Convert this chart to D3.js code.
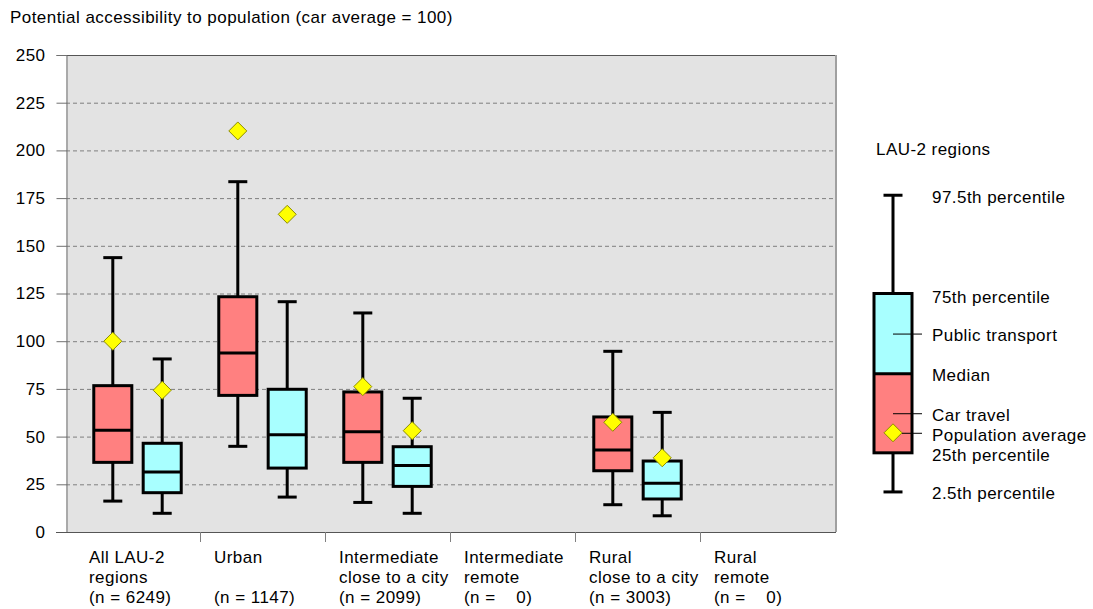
<!DOCTYPE html>
<html><head><meta charset="utf-8">
<script src="https://cdn.jsdelivr.net/npm/d3@7"></script>
<style>
html,body{margin:0;padding:0;background:#fff;}
svg{display:block;font-family:"Liberation Sans",Arial,sans-serif;}
text{white-space:pre;letter-spacing:0.45px;}
</style></head><body>
<svg id="chart" width="1093" height="609"></svg>
<script>
// ---------- data ----------
const categories = ["All LAU-2 regions","Urban","Intermediate close to a city","Intermediate remote","Rural close to a city","Rural remote"];
const categoryLines = [
  ["All LAU-2","regions","(n = 6249)"],
  ["Urban","","(n = 1147)"],
  ["Intermediate","close to a city","(n = 2099)"],
  ["Intermediate","remote","(n =    0)"],
  ["Rural","close to a city","(n = 3003)"],
  ["Rural","remote","(n =    0)"]
];
const modes = ["Car travel","Public transport"];
// car travel percentiles
const carP025 = [16.2, 44.9, 15.5, null, 14.3, null];
const carP25  = [36.5, 71.6, 36.5, null, 32.1, null];
const carMed  = [53.3, 93.8, 52.6, null, 43.0, null];
const carP75  = [76.7, 123.3, 73.4, null, 60.3, null];
const carP975 = [143.8, 183.6, 114.8, null, 94.7, null];
const carAvg  = [100.0, 210.2, 76.2, null, 57.5, null];
// public transport percentiles
const ptP025 = [9.8, 18.3, 9.8, null, 8.5, null];
const ptP25  = [20.6, 33.5, 23.9, null, 17.3, null];
const ptMed  = [31.4, 51.0, 34.8, null, 25.5, null];
const ptP75  = [46.5, 74.8, 44.7, null, 37.2, null];
const ptP975 = [90.7, 120.7, 70.1, null, 62.7, null];
const ptAvg  = [74.3, 166.5, 53.1, null, 38.9, null];
const yTicks = [0,25,50,75,100,125,150,175,200,225,250];
const title = "Potential accessibility to population (car average = 100)";
// legend schematic (in chart units)
const legendTitle = "LAU-2 regions";
const legendBox = {p025:21, p25:41.5, med:83, p75:125, p975:176.5, avg:52};
const legendLabels = [
  {text:"97.5th percentile", v:175.7},
  {text:"75th percentile", v:123.3},
  {text:"Public transport", v:103.2},
  {text:"Median", v:82},
  {text:"Car travel", v:61.3},
  {text:"Population average", v:50.8},
  {text:"25th percentile", v:40.4},
  {text:"2.5th percentile", v:20.3}
];

// ---------- layout ----------
const svg = d3.select("#chart");
const plot = {left:66, right:836, top:55, bottom:532};
const fontSize = 17;
const colors = {"Car travel":"#FF8080","Public transport":"#A8FFFF"};

const y = d3.scaleLinear().domain([0,250]).range([plot.bottom, plot.top]);
const x = d3.scaleBand().domain(categories).range([plot.left+9, plot.right-11]);
const xi = d3.scaleBand().domain(modes).range([0, x.bandwidth()]).paddingInner(0.23).paddingOuter(0.38);
const capW = 19;

// title
svg.append("text").attr("x",10).attr("y",23).attr("font-size",fontSize).attr("fill","#000").text(title);

// plot background
svg.append("rect").attr("x",plot.left).attr("y",plot.top).attr("width",plot.right-plot.left).attr("height",plot.bottom-plot.top).attr("fill","#E3E3E3");

// grid
svg.append("g").selectAll("line").data(yTicks.filter(t=>t>0 && t<250)).join("line")
  .attr("x1",plot.left).attr("x2",plot.right).attr("y1",d=>y(d)+0.5).attr("y2",d=>y(d)+0.5)
  .attr("stroke","#7F7F7F").attr("stroke-width",1).attr("stroke-dasharray","4,3");

// borders
svg.append("line").attr("x1",plot.left).attr("x2",plot.right).attr("y1",plot.top+0.5).attr("y2",plot.top+0.5).attr("stroke","#555").attr("stroke-width",1);
svg.append("line").attr("x1",plot.right).attr("x2",plot.right).attr("y1",plot.top).attr("y2",plot.bottom).attr("stroke","#A0A0A0").attr("stroke-width",2);

// y axis
const yAxis = d3.axisLeft(y).tickValues(yTicks).tickSize(10).tickPadding(11);
const gy = svg.append("g").attr("transform",`translate(${plot.left+0.5},0)`).call(yAxis);
gy.select(".domain").attr("stroke","#707070");
gy.selectAll(".tick line").attr("stroke","#707070");
gy.selectAll(".tick text").attr("font-size",fontSize).attr("fill","#000").attr("font-family","Liberation Sans, Arial, sans-serif");

// x axis
svg.append("line").attr("x1",plot.left-10).attr("x2",plot.right).attr("y1",plot.bottom+0.5).attr("y2",plot.bottom+0.5).attr("stroke","#555");
svg.append("g").selectAll("line").data(categories.slice(1)).join("line")
  .attr("x1",d=>x(d)+0.5).attr("x2",d=>x(d)+0.5).attr("y1",plot.bottom).attr("y2",plot.bottom+10)
  .attr("stroke","#808080");
const lab = svg.append("g").selectAll("text").data(categories).join("text")
  .attr("x",d=>x(d)+14).attr("y",plot.bottom+31).attr("font-size",fontSize).attr("fill","#000");
lab.each(function(d,i){
  const t = d3.select(this);
  categoryLines[i].forEach((ln,j)=>{
    t.append("tspan").attr("x",x(d)+14).attr("y",plot.bottom+31+j*20).text(ln);
  });
});

// boxes
const series = [
  {mode:"Car travel", p025:carP025, p25:carP25, med:carMed, p75:carP75, p975:carP975, avg:carAvg},
  {mode:"Public transport", p025:ptP025, p25:ptP25, med:ptMed, p75:ptP75, p975:ptP975, avg:ptAvg}
];
const boxes = [];
series.forEach(s=>{
  categories.forEach((c,i)=>{
    if (s.med[i]==null) return;
    boxes.push({cat:c, mode:s.mode, p025:s.p025[i], p25:s.p25[i], med:s.med[i], p75:s.p75[i], p975:s.p975[i], avg:s.avg[i]});
  });
});

function drawBox(g, cx, w, d, fill, sy){
  g.append("line").attr("x1",cx).attr("x2",cx).attr("y1",sy(d.p975)).attr("y2",sy(d.p025)).attr("stroke","#000").attr("stroke-width",3);
  g.append("line").attr("x1",cx-capW/2).attr("x2",cx+capW/2).attr("y1",sy(d.p975)).attr("y2",sy(d.p975)).attr("stroke","#000").attr("stroke-width",3);
  g.append("line").attr("x1",cx-capW/2).attr("x2",cx+capW/2).attr("y1",sy(d.p025)).attr("y2",sy(d.p025)).attr("stroke","#000").attr("stroke-width",3);
  g.append("rect").attr("x",cx-w/2).attr("y",sy(d.p75)).attr("width",w).attr("height",sy(d.p25)-sy(d.p75))
    .attr("fill",fill).attr("stroke","#000").attr("stroke-width",3);
  g.append("line").attr("x1",cx-w/2).attr("x2",cx+w/2).attr("y1",sy(d.med)).attr("y2",sy(d.med)).attr("stroke","#000").attr("stroke-width",3);
}
function diamond(g, cx, cy){
  const r = 9;
  g.append("path").attr("d",`M${cx},${cy-r}L${cx+r},${cy}L${cx},${cy+r}L${cx-r},${cy}Z`)
    .attr("fill","#FFFF00").attr("stroke","#8C8C00").attr("stroke-width",1);
}
const gb = svg.append("g");
boxes.forEach(d=>{
  const cx = x(d.cat)+xi(d.mode)+xi.bandwidth()/2;
  drawBox(gb, cx, xi.bandwidth(), d, colors[d.mode], y);
});
boxes.forEach(d=>{
  const cx = x(d.cat)+xi(d.mode)+xi.bandwidth()/2;
  diamond(gb, cx, y(d.avg));
});

// legend
const lg = svg.append("g");
const lcx = 893, lw = 38;
lg.append("text").attr("x",876).attr("y",155).attr("font-size",fontSize).text(legendTitle);
lg.append("line").attr("x1",lcx).attr("x2",lcx).attr("y1",y(legendBox.p975)).attr("y2",y(legendBox.p025)).attr("stroke","#000").attr("stroke-width",3);
[legendBox.p975, legendBox.p025].forEach(v=>{
  lg.append("line").attr("x1",lcx-capW/2).attr("x2",lcx+capW/2).attr("y1",y(v)).attr("y2",y(v)).attr("stroke","#000").attr("stroke-width",3);
});
lg.append("rect").attr("x",lcx-lw/2).attr("y",y(legendBox.p75)).attr("width",lw).attr("height",y(legendBox.med)-y(legendBox.p75)).attr("fill",colors["Public transport"]);
lg.append("rect").attr("x",lcx-lw/2).attr("y",y(legendBox.med)).attr("width",lw).attr("height",y(legendBox.p25)-y(legendBox.med)).attr("fill",colors["Car travel"]);
lg.append("rect").attr("x",lcx-lw/2).attr("y",y(legendBox.p75)).attr("width",lw).attr("height",y(legendBox.p25)-y(legendBox.p75)).attr("fill","none").attr("stroke","#000").attr("stroke-width",3);
lg.append("line").attr("x1",lcx-lw/2).attr("x2",lcx+lw/2).attr("y1",y(legendBox.med)).attr("y2",y(legendBox.med)).attr("stroke","#000").attr("stroke-width",3);
// leader lines
const ptMid = (legendBox.med+legendBox.p75)/2, carMid=(legendBox.p25+legendBox.med)/2;
lg.append("line").attr("x1",lcx).attr("x2",922).attr("y1",y(ptMid)+0.5).attr("y2",y(ptMid)+0.5).attr("stroke","#000").attr("stroke-width",1);
lg.append("line").attr("x1",lcx).attr("x2",922).attr("y1",y(carMid)+0.5).attr("y2",y(carMid)+0.5).attr("stroke","#000").attr("stroke-width",1);
lg.append("line").attr("x1",lcx+9).attr("x2",922).attr("y1",y(legendBox.avg)+0.5).attr("y2",y(legendBox.avg)+0.5).attr("stroke","#000").attr("stroke-width",1);
diamond(lg, lcx, y(legendBox.avg));
lg.selectAll("text.ll").data(legendLabels).join("text").attr("class","ll")
  .attr("x",932).attr("y",d=>y(d.v)).attr("dy","0.35em").attr("font-size",fontSize).text(d=>d.text);
</script>
</body></html>
